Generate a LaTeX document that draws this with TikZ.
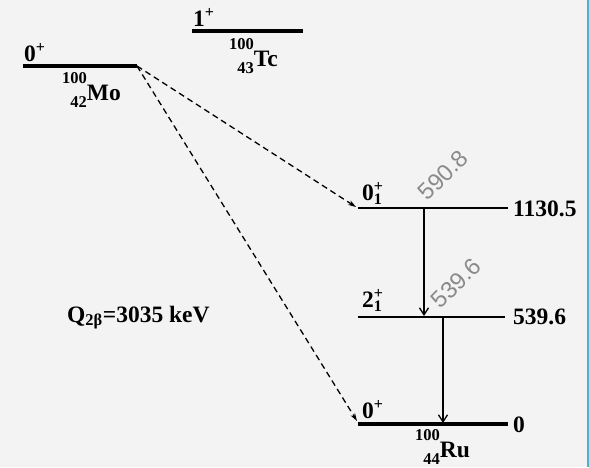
\documentclass[tikz,border=0pt]{standalone}
\usepackage{fontspec}
\setmainfont{Liberation Serif}
\newfontfamily\labelsans{Liberation Sans}
\usetikzlibrary{arrows.meta,positioning}
\definecolor{bgpaper}{HTML}{F3F3F3}
\definecolor{edgeblue}{HTML}{4AB4CC}
\definecolor{gammagray}{HTML}{8A8A8A}
\newcommand{\nuclide}[3]{{\fontsize{16.5}{16}\selectfont\raisebox{17pt}{#1}\llap{\raisebox{-7.5pt}{#2}}}#3}
\newcommand{\spin}[2]{#1\rlap{\raisebox{9pt}{\fontsize{16}{16}\selectfont +}}\raisebox{-4pt}{\fontsize{16}{16}\selectfont #2}}
\newcommand{\spinp}[1]{#1\raisebox{9pt}{\fontsize{16}{16}\selectfont +}}

\begin{document}
\begin{tikzpicture}[x=1pt, y=-1pt,
    lvl/.style={line width=1.8pt},
    gslvl/.style={line width=4.5pt},
    lab/.style={font=\fontsize{23.5}{25}\selectfont\bfseries, inner sep=0pt, anchor=base west},
    glab/.style={font=\labelsans\fontsize{23.5}{25}\selectfont, text=gammagray, inner sep=0pt, rotate=45},
    gam/.style={line width=1.3pt, -{Straight Barb[length=7pt,width=9pt]}},
    dec/.style={line width=1.3pt, dash pattern=on 6pt off 4pt, -{Stealth[length=8pt,width=5pt]}}]
  \useasboundingbox (0,0) rectangle (589,467);
  \fill[bgpaper] (0,0) rectangle (589,467);
  \draw[edgeblue, line width=2pt] (588,0) -- (588,467);
  % parent, intermediate and daughter levels
  \coordinate (mo-l) at (23,66);   \coordinate (mo-r) at (137,66);
  \coordinate (tc-l) at (192,31);  \coordinate (tc-r) at (303,31);
  \coordinate (ex0-l) at (358,208); \coordinate (ex0-r) at (508,208);
  \coordinate (ex2-l) at (358,317); \coordinate (ex2-r) at (505,317);
  \coordinate (ru-l) at (358,424);  \coordinate (ru-r) at (508,424);
  \draw[gslvl] (mo-l) -- (mo-r);
  \draw[gslvl, line width=3.5pt] (tc-l) -- (tc-r);
  \draw[lvl] (ex0-l) -- (ex0-r);
  \draw[lvl] (ex2-l) -- (ex2-r);
  \draw[gslvl, line width=4pt] (ru-l) -- (ru-r);
  % spins and nuclides
  \node[lab] (mo-spin) at (24,61) {\spinp{0}};
  \node[lab] (mo-nuc) at (62,100) {\nuclide{100}{42}{Mo}};
  \node[lab] (tc-spin) at (193,26) {\spinp{1}};
  \node[lab] (tc-nuc) at (229,66) {\nuclide{100}{43}{Tc}};
  \node[lab] (ex0-spin) at (362,200) {\spin{0}{1}};
  \node[lab] (ex2-spin) at (362,307) {\spin{2}{1}};
  \node[lab] (ru-spin) at (362,418) {\spinp{0}};
  \node[lab] (ru-nuc) at (415,457) {\nuclide{100}{44}{Ru}};
  % energies
  \node[lab] (ex0-en) at (513,216) {1130.5};
  \node[lab] (ex2-en) at (513,324) {539.6};
  \node[lab] (ru-en) at (513,432) {0};
  \node[lab] (qval) at (67,322) {Q\textsubscript{2β}=3035 keV};
  % double beta branches
  \coordinate (ex0-in) at (356,207);
  \coordinate (ru-in) at (357,421);
  \draw[dec] (mo-r) -- (ex0-in);
  \draw[dec] (mo-r) -- (ru-in);
  % gamma cascade
  \coordinate (g1-top) at (424,208); \coordinate (g1-bot) at (424,316);
  \coordinate (g2-top) at (443,317); \coordinate (g2-bot) at (443,423);
  \draw[gam] (g1-top) -- (g1-bot);
  \draw[gam] (g2-top) -- (g2-bot);
  \node[glab] (g1-lab) at (443,175) {590.8};
  \node[glab] (g2-lab) at (456,283) {539.6};
\end{tikzpicture}
\end{document}
